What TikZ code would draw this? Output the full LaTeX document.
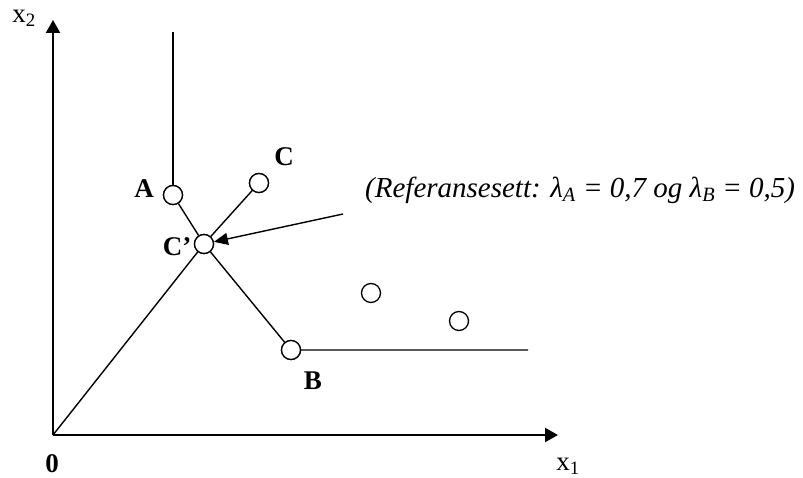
\documentclass[tikz,border=0pt]{standalone}
\usepackage{fontspec}
\setmainfont{Liberation Serif}
\usetikzlibrary{arrows.meta}
\begin{document}
\begin{tikzpicture}[x=1pt,y=-1pt,
  pt/.style={circle,draw,line width=1.3pt,fill=white,minimum size=19pt,inner sep=0pt},
  ln/.style={line width=1.4pt},
  axis/.style={line width=2.2pt,-{Triangle[length=13pt,width=14pt]}},
  lbl/.style={font=\fontsize{27}{30}\selectfont\bfseries,inner sep=0pt},
  ax/.style={font=\fontsize{27}{30}\selectfont,inner sep=0pt}]
\useasboundingbox (0,0) rectangle (803,478);
\coordinate (O) at (53,435);
\coordinate (Xend) at (558,435);
\coordinate (Yend) at (53,20);
\coordinate (Atop) at (173,32);
\coordinate (Bend) at (528,350);
\coordinate (Arrs) at (343,214);
\node[pt] (A) at (173,195) {};
\node[pt] (Cp) at (204,244) {};
\node[pt] (C) at (259,183) {};
\node[pt] (B) at (291,350) {};
\node[pt] (P1) at (371,293) {};
\node[pt] (P2) at (459,321) {};
\draw[axis] (O) -- (Xend);
\draw[axis] (O) -- (Yend);
\draw[ln] (Atop) -- (A);
\draw[ln] (A) -- (Cp) -- (B) -- (Bend);
\draw[ln] (O) -- (Cp) -- (C);
\draw[ln,-{Triangle[length=14pt,width=12pt]}] (Arrs) -- (Cp);
\node[pt] at (A) {};
\node[pt] at (Cp) {};
\node[pt] at (C) {};
\node[pt] at (B) {};
\node[lbl] (lA) at (144,189) {A};
\node[lbl] (lC) at (284,157) {C};
\node[lbl] (lCp) at (177,247) {C’};
\node[lbl] (lB) at (313,381) {B};
\node[lbl] (l0) at (52,464) {0};
\node[ax] (x1) at (568,466) {x\textsubscript{1}};
\node[ax] (x2) at (24,18) {x\textsubscript{2}};
\node[font=\fontsize{29}{32}\selectfont\itshape,inner sep=0pt,anchor=west] (ref) at (365,190)
  {(Referansesett: λ\textsubscript{A} = 0,7 og λ\textsubscript{B} = 0,5)};
\end{tikzpicture}
\end{document}
